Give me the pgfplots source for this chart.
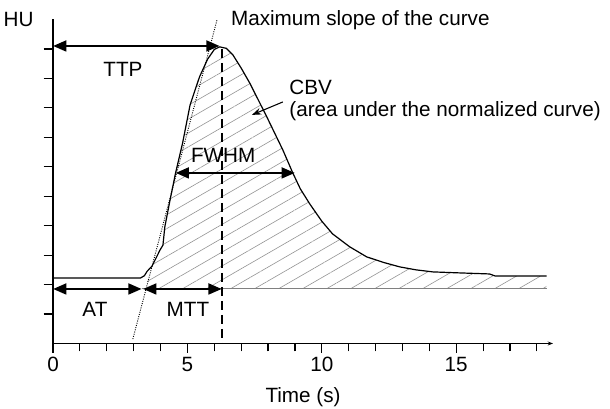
\documentclass[border=0pt]{standalone}
\usepackage{fontspec}
\setmainfont{Liberation Sans}
\usepackage{pgfplots}
\pgfplotsset{compat=1.18}
\usetikzlibrary{arrows.meta,patterns.meta}

\newcommand{\lbl}{\fontsize{15.5}{18}\selectfont}

\begin{document}
\begin{tikzpicture}
\begin{axis}[
  scale only axis,
  width=375pt, height=243pt,
  xmin=0, xmax=18.6, ymin=0, ymax=11,
  axis x line*=bottom, axis y line*=left,
  x axis line style={-{Stealth[length=4pt,width=3pt]}},
  xtick={0,5,10,15}, minor xtick={1,2,3,4,6,7,8,9,11,12,13,14,16,17,18},
  ytick={1,2,3,4,5,6,7,8,9,10}, yticklabels={},
  tick align=outside,
  major tick length=7pt, minor tick length=6pt,
  tick style={black, line width=0.9pt},
  axis line style={line width=0.9pt},
  /pgf/number format/assume math mode=true,
  tick label style={font=\lbl},
  xlabel={Time (s)}, xlabel style={font=\lbl, yshift=-5pt},
  clip=false,
]
% hatched area under the curve
\addplot[draw=none, pattern={Lines[angle=30,distance=9pt,line width=0.45pt]}, pattern color=gray!85]
coordinates {
  (3.5,2.45) (3.68,2.62) (3.98,3.17) (4.09,3.34) (4.16,3.96) (4.35,4.85)
  (4.56,5.79) (4.82,6.8) (5.1,8.1) (5.45,9.05) (5.75,9.65) (6.0,9.98)
  (6.2,10.07) (6.45,10.02) (6.69,9.8) (7.0,9.35) (7.32,8.84) (7.95,7.7)
  (8.55,6.57) (8.92,5.79) (9.2,5.25) (9.55,4.74) (10.0,4.15) (10.4,3.72)
  (11.04,3.28) (11.67,2.94) (12.3,2.75) (12.9,2.6) (13.5,2.5) (14.13,2.43)
  (15.0,2.4) (16.24,2.36) (16.45,2.29) (18.36,2.29)
  (18.36,1.87) (3.5,1.87)
} -- cycle;
% lower baseline
\addplot[gray, line width=0.8pt] coordinates {(3.3,1.87) (18.36,1.87)};
% curve
\addplot[black, line width=0.9pt] coordinates {
  (0,2.22) (3.25,2.22) (3.4,2.3) (3.5,2.45) (3.68,2.62) (3.98,3.17)
  (4.09,3.34) (4.16,3.96) (4.35,4.85) (4.56,5.79) (4.82,6.8) (5.1,8.1)
  (5.45,9.05) (5.75,9.65) (6.0,9.98) (6.2,10.07) (6.45,10.02)
  (6.69,9.8) (7.0,9.35) (7.32,8.84) (7.95,7.7) (8.55,6.57) (8.92,5.79)
  (9.2,5.25) (9.55,4.74) (10.0,4.15) (10.4,3.72) (11.04,3.28) (11.67,2.94)
  (12.3,2.75) (12.9,2.6) (13.5,2.5) (14.13,2.43) (15.0,2.4) (16.24,2.36)
  (16.45,2.29) (18.36,2.29)
};
% tangent (maximum slope)
\draw[densely dotted, line width=0.7pt] (axis cs:2.97,0.15) -- (axis cs:6.1,10.98);
% dashed vertical line at the peak
\draw[line width=1.5pt, dash pattern=on 7pt off 3.5pt] (axis cs:6.28,10.0) -- (axis cs:6.28,0);
% double arrows
\tikzset{dbl/.style={line width=2pt, {Triangle[length=10pt,width=8pt]}-{Triangle[length=10pt,width=8pt]}}}
\draw[dbl] (axis cs:0,10.1) -- (axis cs:6.2,10.1);
\draw[dbl] (axis cs:4.56,5.79) -- (axis cs:9.0,5.79);
\draw[dbl] (axis cs:0,1.85) -- (axis cs:3.3,1.85);
\draw[dbl] (axis cs:3.35,1.85) -- (axis cs:6.28,1.85);
% CBV pointer
\draw[line width=0.8pt, -{Stealth[length=7pt,width=5pt]}] (axis cs:8.55,8.2) -- (axis cs:7.4,7.76);
% labels
\node[font=\lbl, anchor=base east] at (axis cs:-0.55,10.75) {HU};
\node[font=\lbl, anchor=base west] at (axis cs:6.45,10.81) {Maximum slope of the curve};
\node[font=\lbl, anchor=base] at (axis cs:2.6,9.05) {TTP};
\node[font=\lbl, anchor=base west] at (axis cs:8.62,8.44) {CBV};
\node[font=\lbl, anchor=base west] at (axis cs:8.62,7.69) {(area under the normalized curve)};
\node[font=\lbl, anchor=base] at (axis cs:6.33,6.13) {FWHM};
\node[font=\lbl, anchor=base] at (axis cs:1.56,0.9) {AT};
\node[font=\lbl, anchor=base] at (axis cs:5.02,0.9) {MTT};
\end{axis}
\pgfresetboundingbox
\useasboundingbox (-39.75pt,-48.4pt) rectangle (417.75pt,257.6pt);
\end{tikzpicture}
\end{document}
